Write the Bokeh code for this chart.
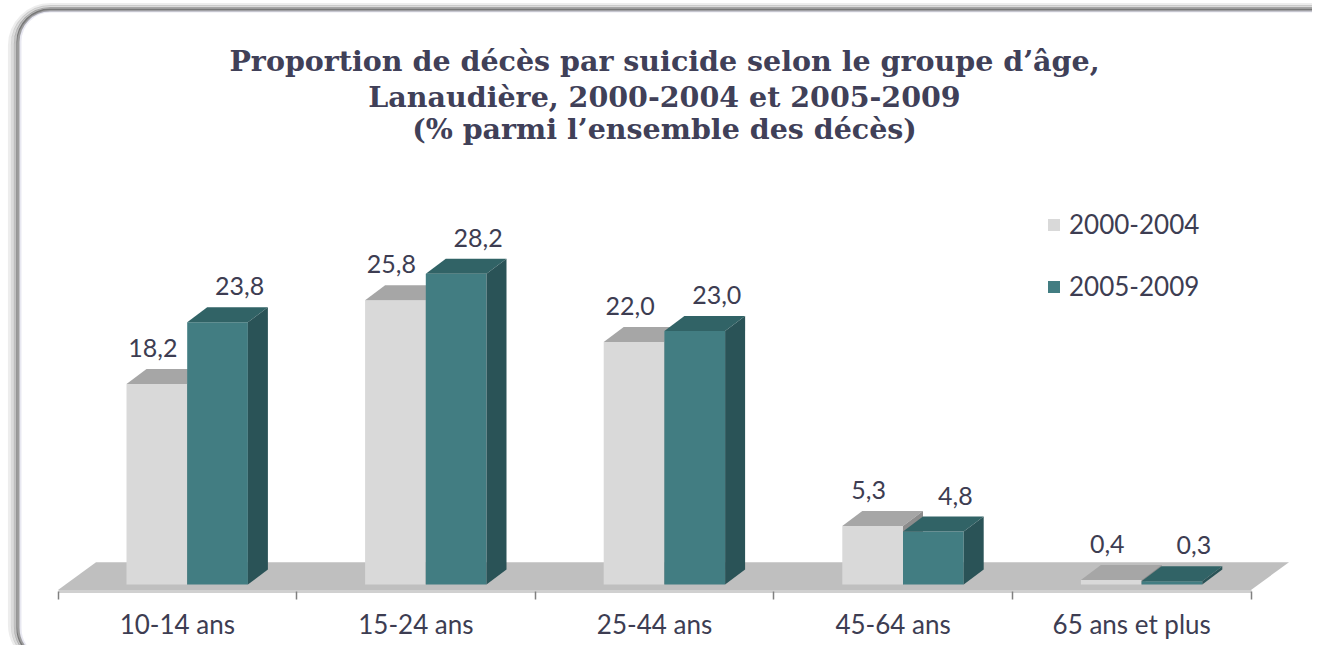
from bokeh.plotting import figure
from bokeh.models import (FixedTicker, Label, BoxAnnotation, Legend, LegendItem,
                          Range1d, ColumnDataSource)
from bokeh.embed import file_html
from bokeh.resources import INLINE
from bokeh.core.properties import value

# ---------------- data ----------------
categories = ["10-14 ans", "15-24 ans", "25-44 ans", "45-64 ans", "65 ans et plus"]
series_names = ["2000-2004", "2005-2009"]
values_2000_2004 = [18.2, 25.8, 22.0, 5.3, 0.4]
values_2005_2009 = [23.8, 28.2, 23.0, 4.8, 0.3]
title_lines = ["Proportion de décès par suicide selon le groupe d\u2019âge,",
               "Lanaudière, 2000-2004 et 2005-2009",
               "(% parmi l\u2019ensemble des décès)"]

# ---------------- geometry / style ----------------
W, H = 1312, 645
FRAME_H = H
AXIS_PX = 591
PX_PER_CAT = 238.6
X0_PX = 57.5
PX_PER_UNIT = 11.02
ZERO_PX = 584

x_start = -X0_PX / PX_PER_CAT
x_end = (W - X0_PX) / PX_PER_CAT
y_end = ZERO_PX / PX_PER_UNIT
y_start = -(FRAME_H - ZERO_PX) / PX_PER_UNIT


def fx(px):
    return x_start + px / PX_PER_CAT


def fy(py):
    return y_end - py / PX_PER_UNIT


BAR_W = 60.7 / PX_PER_CAT
FIRST_OFF = -50.8 / PX_PER_CAT
DX = 20 / PX_PER_CAT
DY = 15 / PX_PER_UNIT
FLOOR_DX = 38 / PX_PER_CAT
FLOOR_FRONT = -5.5 / PX_PER_UNIT
FLOOR_BACK = 22.3 / PX_PER_UNIT
LABEL_RISE = 36 / PX_PER_UNIT

TEXT_COLOR = "#3d3d52"
FONT = "Lato"
series_colors = [
    dict(front="#d9d9d9", top="#a6a6a6", side="#8c8c8c"),
    dict(front="#427d82", top="#316366", side="#2a5357"),
]
label_x_offsets = [-4, 22]

p = figure(width=W, height=H,
           x_range=Range1d(x_start, x_end), y_range=Range1d(y_start, y_end),
           output_backend="svg", toolbar_location=None, y_axis_location=None,
           min_border_left=0, min_border_right=0, min_border_top=0,
           min_border_bottom=0,
           background_fill_color="white", border_fill_color="white",
           outline_line_color=None)
p.grid.visible = False

# rounded frame with a soft shadow on its top / left
for offx, offy, alpha in [(11, 7, 0.07), (8, 5, 0.14), (5, 3, 0.24), (2.5, 1.5, 0.38)]:
    p.add_layout(BoxAnnotation(left=fx(20 - offx), right=fx(1360), top=fy(11 - offy),
                               bottom=fy(658 + offy), border_radius=int(30 + offx),
                               fill_color=None, line_color="black", line_alpha=alpha,
                               line_width=3.2, level="underlay"))
p.add_layout(BoxAnnotation(left=fx(20), right=fx(1360), top=fy(11), bottom=fy(658),
                           border_radius=30, fill_color=None,
                           line_color="#b3b3d1", line_width=2, level="underlay"))

n = len(categories)
centers = [i + 0.5 for i in range(n)]

# floor
p.patch(x=[0, n, n + FLOOR_DX, FLOOR_DX],
        y=[FLOOR_FRONT, FLOOR_FRONT, FLOOR_BACK, FLOOR_BACK],
        fill_color="#bfbfbf", line_color=None)

front_renderers = []
for s, vals in enumerate([values_2000_2004, values_2005_2009]):
    col = series_colors[s]
    lefts = [c + FIRST_OFF + s * BAR_W for c in centers]
    rights = [l + BAR_W for l in lefts]
    src = ColumnDataSource(dict(left=lefts, right=rights, top=vals, bottom=[0] * n))
    r = p.quad(left="left", right="right", top="top", bottom="bottom", source=src,
               fill_color=col["front"], line_color=None)
    front_renderers.append(r)
    p.patches(xs=[[l, rr, rr + DX, l + DX] for l, rr in zip(lefts, rights)],
              ys=[[v, v, v + DY, v + DY] for v in vals],
              fill_color=col["top"], line_color=None)
    p.patches(xs=[[rr, rr, rr + DX, rr + DX] for rr in rights],
              ys=[[0, v, v + DY, DY] for v in vals],
              fill_color=col["side"], line_color=None)
    p.text(x=[(l + rr) / 2 for l, rr in zip(lefts, rights)],
           y=[v + LABEL_RISE for v in vals],
           text=[f"{v:.1f}".replace(".", ",") for v in vals],
           text_font=value(FONT), text_font_size="25px", text_color=TEXT_COLOR,
           text_align="center", text_baseline="alphabetic",
           x_offset=label_x_offsets[s])

# axis (drawn at the floor's front edge)
ax = p.xaxis[0]
ax.fixed_location = fy(AXIS_PX)
ax.ticker = FixedTicker(ticks=centers, minor_ticks=list(range(n + 1)))
ax.major_label_overrides = {c: cat for c, cat in zip(centers, categories)}
ax.bounds = (0, n)
ax.major_tick_line_color = None
ax.major_tick_out = 0
ax.major_tick_in = 0
ax.minor_tick_line_color = "#808080"
ax.minor_tick_line_width = 1.5
ax.minor_tick_out = 8
ax.minor_tick_in = 0
ax.axis_line_color = "#d0d0d0"
ax.axis_line_width = 3
ax.major_label_text_font = FONT
ax.major_label_text_font_size = "26px"
ax.major_label_text_color = TEXT_COLOR
ax.major_label_standoff = 8

# title
for line, base in zip(title_lines, [60, 96, 128]):
    p.add_layout(Label(x=fx(664), y=fy(base), text=line, text_font="DejaVu Serif",
                       text_font_style="bold", text_font_size="28.5px",
                       text_color="#404058", text_align="center",
                       text_baseline="alphabetic"))

legend = Legend(items=[LegendItem(label=series_names[0], renderers=[front_renderers[0]]),
                       LegendItem(label=series_names[1], renderers=[front_renderers[1]])],
                location=(1046, 289 + (FRAME_H - AXIS_PX)), orientation="vertical",
                border_line_color=None, background_fill_alpha=0,
                padding=0, margin=0, spacing=30, glyph_width=15, glyph_height=15,
                label_standoff=8, label_text_font=FONT, label_text_font_size="26px",
                label_text_color=TEXT_COLOR, label_height=30)
p.add_layout(legend)

open("out.html", "w").write(file_html(p, INLINE))
